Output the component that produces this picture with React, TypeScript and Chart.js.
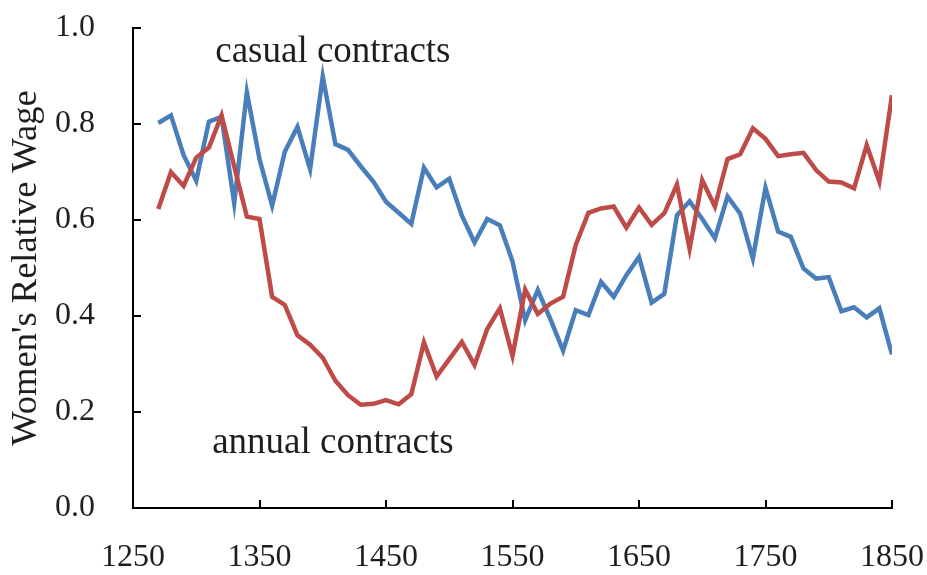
import React, { useEffect, useRef } from "react";
import { Chart, registerables } from "chart.js";
Chart.register(...registerables);

const years = [
  1270, 1280, 1290, 1300, 1310, 1320, 1330, 1340, 1350, 1360,
  1370, 1380, 1390, 1400, 1410, 1420, 1430, 1440, 1450, 1460,
  1470, 1480, 1490, 1500, 1510, 1520, 1530, 1540, 1550, 1560,
  1570, 1580, 1590, 1600, 1610, 1620, 1630, 1640, 1650, 1660,
  1670, 1680, 1690, 1700, 1710, 1720, 1730, 1740, 1750, 1760,
  1770, 1780, 1790, 1800, 1810, 1820, 1830, 1840, 1850,
];

const casualContracts = [
  0.802, 0.818, 0.735, 0.682, 0.805, 0.815, 0.635, 0.866, 0.727, 0.630,
  0.742, 0.794, 0.706, 0.899, 0.758, 0.746, 0.712, 0.680, 0.638, 0.615,
  0.592, 0.709, 0.668, 0.686, 0.609, 0.553, 0.602, 0.589, 0.514, 0.391,
  0.454, 0.393, 0.328, 0.412, 0.402, 0.471, 0.440, 0.485, 0.523, 0.428,
  0.446, 0.610, 0.639, 0.602, 0.562, 0.649, 0.613, 0.520, 0.667, 0.576,
  0.565, 0.499, 0.478, 0.481, 0.410, 0.418, 0.397, 0.416, 0.320,
];

const annualContracts = [
  0.623, 0.700, 0.671, 0.730, 0.751, 0.818, 0.712, 0.607, 0.602, 0.440,
  0.423, 0.360, 0.340, 0.313, 0.265, 0.235, 0.215, 0.217, 0.225, 0.216,
  0.237, 0.345, 0.274, 0.310, 0.346, 0.298, 0.373, 0.416, 0.317, 0.455,
  0.404, 0.426, 0.440, 0.548, 0.615, 0.624, 0.628, 0.584, 0.626, 0.590,
  0.614, 0.674, 0.540, 0.683, 0.628, 0.727, 0.737, 0.791, 0.769, 0.733,
  0.737, 0.740, 0.704, 0.680, 0.678, 0.666, 0.756, 0.680, 0.860,
];

const xMin = 1250;
const xMax = 1850;
const xStep = 100;
const yMin = 0;
const yMax = 1;
const yStep = 0.2;

const yTitle = "Women's Relative Wage";
const casualLabel = "casual contracts";
const annualLabel = "annual contracts";
const casualLabelAt = { x: 1408, y: 0.93 };
const annualLabelAt = { x: 1408, y: 0.115 };

const FONT = "'Liberation Serif', 'Times New Roman', serif";
const TEXT = "#1e1e1e";
const BLUE = "#4a7ebb";
const RED = "#be4b48";

const insideTicks = {
  id: "insideTicks",
  afterDraw(chart: any) {
    const { ctx, chartArea, scales } = chart;
    const x = scales.x;
    const y = scales.y;
    ctx.save();
    ctx.strokeStyle = "#000";
    ctx.lineWidth = 2;
    x.ticks.forEach((t: any) => {
      const px = Math.round(x.getPixelForValue(t.value));
      ctx.beginPath();
      ctx.moveTo(px, chartArea.bottom);
      ctx.lineTo(px, chartArea.bottom - 8);
      ctx.stroke();
    });
    y.ticks.forEach((t: any) => {
      const py = Math.round(y.getPixelForValue(t.value));
      ctx.beginPath();
      ctx.moveTo(chartArea.left, py);
      ctx.lineTo(chartArea.left + 8, py);
      ctx.stroke();
    });
    ctx.restore();
  },
};

const annotations = {
  id: "annotations",
  afterDraw(chart: any) {
    const { ctx, scales } = chart;
    const x = scales.x;
    const y = scales.y;
    ctx.save();
    ctx.fillStyle = TEXT;
    ctx.font = `37px ${FONT}`;
    ctx.textAlign = "center";
    ctx.textBaseline = "alphabetic";
    ctx.fillText(casualLabel, x.getPixelForValue(casualLabelAt.x), y.getPixelForValue(casualLabelAt.y));
    ctx.fillText(annualLabel, x.getPixelForValue(annualLabelAt.x), y.getPixelForValue(annualLabelAt.y));
    ctx.restore();
  },
};

export default function App() {
  const ref = useRef<HTMLCanvasElement | null>(null);

  useEffect(() => {
    if (!ref.current) return;
    const chart = new Chart(ref.current, {
      type: "line",
      data: {
        datasets: [
          {
            label: annualLabel,
            data: years.map((yr, i) => ({ x: yr, y: annualContracts[i] })),
            borderColor: RED,
            borderWidth: 4.5,
            pointRadius: 0,
            tension: 0,
            fill: false,
          },
          {
            label: casualLabel,
            data: years.map((yr, i) => ({ x: yr, y: casualContracts[i] })),
            borderColor: BLUE,
            borderWidth: 4.5,
            pointRadius: 0,
            tension: 0,
            fill: false,
          },
        ],
      },
      options: {
        animation: false,
        responsive: false,
        layout: { padding: { left: 0, top: 28, right: 35, bottom: 0 } },
        plugins: {
          legend: { display: false },
          tooltip: { enabled: false },
        },
        scales: {
          x: {
            type: "linear",
            min: xMin,
            max: xMax,
            grid: {
              display: true,
              drawOnChartArea: false,
              drawTicks: true,
              tickLength: 30,
              color: "rgba(0,0,0,0)",
            },
            border: { display: true, color: "#000", width: 2 },
            ticks: {
              stepSize: xStep,
              autoSkip: false,
              maxRotation: 0,
              padding: 0,
              color: TEXT,
              font: { family: FONT, size: 32 },
              callback: (v: any) => String(v),
            },
            afterFit: (s: any) => {
              s.height = 67;
            },
          },
          y: {
            type: "linear",
            min: yMin,
            max: yMax,
            grid: {
              display: true,
              drawOnChartArea: false,
              drawTicks: true,
              tickLength: 38,
              color: "rgba(0,0,0,0)",
            },
            border: { display: true, color: "#000", width: 2 },
            ticks: {
              stepSize: yStep,
              padding: 0,
              color: TEXT,
              font: { family: FONT, size: 32 },
              callback: (v: any) => Number(v).toFixed(1),
            },
            title: {
              display: true,
              text: yTitle,
              color: TEXT,
              font: { family: FONT, size: 36.5 },
              padding: { top: 5, bottom: 0 },
            },
            afterFit: (s: any) => {
              s.width = 133;
            },
          },
        },
      },
      plugins: [insideTicks, annotations],
    });
    return () => chart.destroy();
  }, []);

  return (
    <div style={{ position: "absolute", left: 0, top: 0, width: 927, height: 575, background: "#fff" }}>
      <canvas ref={ref} width={927} height={575} style={{ display: "block" }} />
    </div>
  );
}
